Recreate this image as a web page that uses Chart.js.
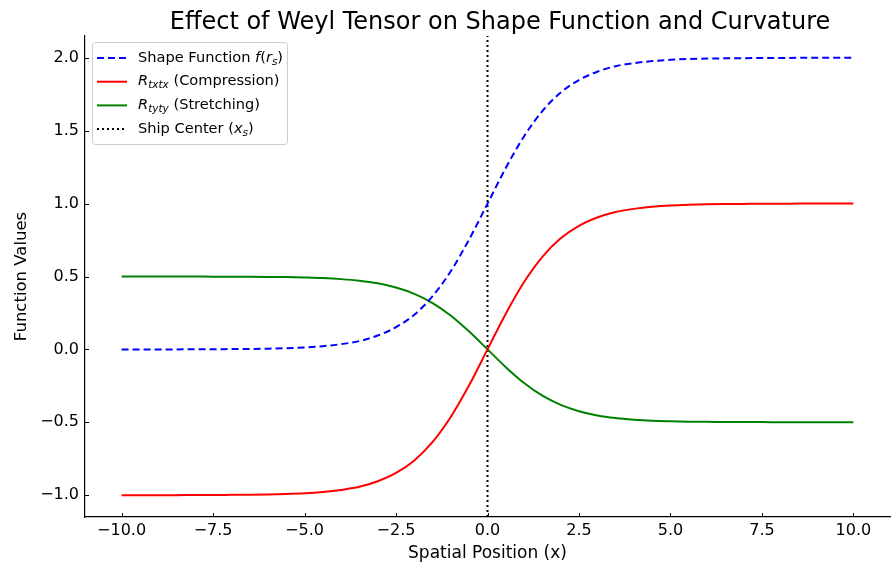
<!DOCTYPE html>
<html><head><meta charset="utf-8">
<script src="https://cdn.jsdelivr.net/npm/chart.js@4/dist/chart.umd.min.js"></script>
<style>html,body{margin:0;padding:0;background:#fff}#wrap{width:893px;height:564px}</style>
</head><body><div id="wrap"><canvas id="c" width="893" height="564"></canvas></div>
<script>
const xValues = [-10,-9.5,-9,-8.5,-8,-7.5,-7,-6.5,-6,-5.5,-5,-4.5,-4,-3.5,-3,-2.5,-2,-1.5,-1,-0.5,0,0.5,1,1.5,2,2.5,3,3.5,4,4.5,5,5.5,6,6.5,7,7.5,8,8.5,9,9.5,10];
const shapeF = [0,0,0,0,0.001,0.001,0.002,0.003,0.005,0.008,0.013,0.022,0.036,0.057,0.095,0.152,0.238,0.365,0.538,0.755,1.0,1.245,1.462,1.635,1.762,1.848,1.905,1.943,1.964,1.978,1.987,1.992,1.995,1.997,1.998,1.999,1.999,2.0,2.0,2.0,2.0];
const rTxtx = [-1.0,-1.0,-1.0,-1.0,-0.999,-0.999,-0.998,-0.997,-0.995,-0.992,-0.987,-0.978,-0.964,-0.943,-0.905,-0.848,-0.762,-0.635,-0.462,-0.245,0,0.245,0.462,0.635,0.762,0.848,0.905,0.943,0.964,0.978,0.987,0.992,0.995,0.997,0.998,0.999,0.999,1.0,1.0,1.0,1.0];
const rTyty = [0.5,0.5,0.5,0.5,0.5,0.499,0.499,0.498,0.497,0.496,0.493,0.489,0.482,0.471,0.453,0.424,0.381,0.318,0.231,0.122,0,-0.122,-0.231,-0.318,-0.381,-0.424,-0.453,-0.471,-0.482,-0.489,-0.493,-0.496,-0.497,-0.498,-0.499,-0.499,-0.5,-0.5,-0.5,-0.5,-0.5];
const shipCenter = 0;
const xTicks = [-10,-7.5,-5,-2.5,0,2.5,5,7.5,10];
const yTicks = [-1.0,-0.5,0.0,0.5,1.0,1.5,2.0];
const titleText = 'Effect of Weyl Tensor on Shape Function and Curvature';

const X_MIN=-11, X_MAX=11, Y_MIN=-1.15, Y_MAX=2.15;
const FONT = '"DejaVu Sans", sans-serif';
const toPts = ys => xValues.map((x,i)=>({x:x,y:ys[i]}));
const fmt = v => v.toFixed(1).replace('-', '\u2212');

const inwardTicks = {
  id:'inwardTicks',
  afterDraw(chart){
    const ctx=chart.ctx, a=chart.chartArea;
    ctx.save(); ctx.strokeStyle='#000'; ctx.lineWidth=1;
    const xs=chart.scales.x, ys=chart.scales.y;
    xTicks.forEach(v=>{const p=Math.round(xs.getPixelForValue(v))+0.5; ctx.beginPath(); ctx.moveTo(p,a.bottom); ctx.lineTo(p,a.bottom-4); ctx.stroke();});
    yTicks.forEach(v=>{const p=Math.round(ys.getPixelForValue(v))+0.5; ctx.beginPath(); ctx.moveTo(a.left,p); ctx.lineTo(a.left+4,p); ctx.stroke();});
    // title
    ctx.fillStyle='#000'; ctx.font='24px '+FONT; ctx.textAlign='center'; ctx.textBaseline='alphabetic';
    ctx.fillText(titleText, 500, 29);
    // legend
    const bx=92.5, by=42.5, bw=195, bh=102;
    ctx.fillStyle='rgba(255,255,255,0.8)'; ctx.strokeStyle='#cccccc'; ctx.lineWidth=1;
    ctx.beginPath(); if(ctx.roundRect){ctx.roundRect(bx,by,bw,bh,3);}else{ctx.rect(bx,by,bw,bh);} ctx.fill(); ctx.stroke();
    const rows=[
      {color:'#0000ff', dash:[7,4], w:2, parts:[['Shape Function ',''],['f','i'],['(',''],['r','i'],['s','isub'],[')','']]},
      {color:'#ff0000', dash:[], w:2, parts:[['R','i'],['txtx','isub'],[' (Compression)','']]},
      {color:'#008000', dash:[], w:2, parts:[['R','i'],['tyty','isub'],[' (Stretching)','']]},
      {color:'#000000', dash:[2,3], w:2, parts:[['Ship Center (',''],['x','i'],['s','isub'],[')','']]}
    ];
    rows.forEach((r,i)=>{
      const y=58+i*23.7;
      ctx.strokeStyle=r.color; ctx.lineWidth=r.w; ctx.setLineDash(r.dash);
      ctx.beginPath(); ctx.moveTo(97,y); ctx.lineTo(127,y); ctx.stroke(); ctx.setLineDash([]);
      let tx=138; ctx.fillStyle='#000'; ctx.textAlign='left'; ctx.textBaseline='middle';
      r.parts.forEach(([t,s])=>{
        let f='14.6px '+FONT, dy=0;
        if(s==='i') f='italic 14.6px '+FONT;
        if(s==='isub'){ f='italic 10.5px '+FONT; dy=4; }
        ctx.font=f; ctx.fillText(t,tx,y+dy); tx+=ctx.measureText(t).width;
      });
    });
    ctx.restore();
  }
};

new Chart(document.getElementById('c'), {
  type:'line',
  data:{datasets:[
    {label:'Shape Function f(r_s)', data:toPts(shapeF), borderColor:'#0000ff', borderWidth:2, borderDash:[7,4], pointRadius:0, cubicInterpolationMode:'monotone', fill:false},
    {label:'R_txtx (Compression)', data:toPts(rTxtx), borderColor:'#ff0000', borderWidth:2, pointRadius:0, cubicInterpolationMode:'monotone', fill:false},
    {label:'R_tyty (Stretching)', data:toPts(rTyty), borderColor:'#008000', borderWidth:2, pointRadius:0, cubicInterpolationMode:'monotone', fill:false},
    {label:'Ship Center (x_s)', data:[{x:shipCenter,y:Y_MIN},{x:shipCenter,y:Y_MAX}], borderColor:'#000000', borderWidth:2, borderDash:[2,3], pointRadius:0, fill:false}
  ]},
  options:{
    responsive:false, animation:false, devicePixelRatio:1,
    layout:{padding:{top:36,right:3,left:12,bottom:0}},
    plugins:{legend:{display:false}, title:{display:false}, tooltip:{enabled:false}},
    scales:{
      x:{type:'linear', min:X_MIN, max:X_MAX,
        afterBuildTicks:s=>{s.ticks=xTicks.map(v=>({value:v}));},
        afterFit:s=>{s.height=47;},
        grid:{display:false, drawTicks:false},
        border:{display:true,color:'#000',width:1.2},
        ticks:{callback:v=>fmt(v), color:'#000', font:{family:FONT,size:16}, padding:4, maxRotation:0, autoSkip:false},
        title:{display:true,text:'Spatial Position (x)',color:'#000',font:{family:FONT,size:17},padding:{top:0,bottom:0}}
      },
      y:{type:'linear', min:Y_MIN, max:Y_MAX,
        afterBuildTicks:s=>{s.ticks=yTicks.map(v=>({value:v}));},
        afterFit:s=>{s.width=73;},
        grid:{display:false, drawTicks:false},
        border:{display:true,color:'#000',width:1.2},
        ticks:{callback:v=>fmt(v), color:'#000', font:{family:FONT,size:16}, padding:6, autoSkip:false},
        title:{display:true,text:'Function Values',color:'#000',font:{family:FONT,size:16.5},padding:{top:0,bottom:4}}
      }
    }
  },
  plugins:[inwardTicks]
});
</script></body></html>
